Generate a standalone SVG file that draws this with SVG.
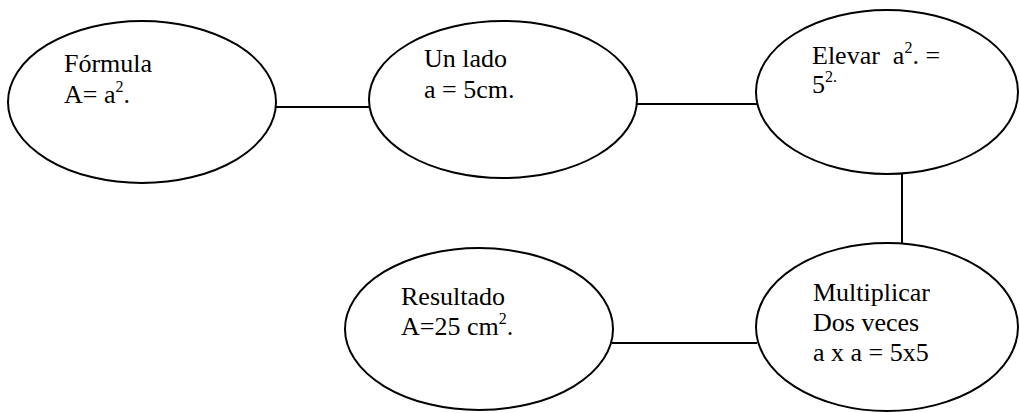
<svg xmlns="http://www.w3.org/2000/svg" width="1020" height="413" viewBox="0 0 1020 413">
<style>
.node ellipse{fill:#fff;stroke:#000;stroke-width:2}
.conn line{stroke:#000;stroke-width:2}
text{font-family:"Liberation Serif","Times New Roman",serif;font-size:26px;fill:#000}
.sup{font-size:16px}
</style>
<rect width="1020" height="413" fill="#fff"/>
<g id="connectors" class="conn">
<line x1="276" y1="107" x2="370" y2="107"/>
<line x1="636" y1="104" x2="757" y2="104"/>
<line x1="902" y1="173" x2="902" y2="244"/>
<line x1="612" y1="343" x2="757" y2="343"/>
</g>
<g id="formula" class="node">
<ellipse cx="142" cy="102" rx="134" ry="81"/>
<text x="64" y="72">Fórmula</text>
<text x="64" y="103">A= a<tspan class="sup" dy="-11">2</tspan><tspan dy="11">.</tspan></text>
</g>
<g id="unlado" class="node">
<ellipse cx="503" cy="99.5" rx="134" ry="78.5"/>
<text x="424" y="67">Un lado</text>
<text x="424" y="98">a = 5cm.</text>
</g>
<g id="elevar" class="node">
<ellipse cx="887" cy="92" rx="131" ry="82"/>
<text x="812" y="64" xml:space="preserve">Elevar  a<tspan class="sup" dy="-11">2</tspan><tspan dy="11">. =</tspan></text>
<text x="812" y="93">5<tspan class="sup" dy="-11">2.</tspan></text>
</g>
<g id="multiplicar" class="node">
<ellipse cx="887" cy="327" rx="131" ry="84"/>
<text x="813" y="301">Multiplicar</text>
<text x="813" y="331">Dos veces</text>
<text x="813" y="361">a x a = 5x5</text>
</g>
<g id="resultado" class="node">
<ellipse cx="479" cy="329" rx="134" ry="81"/>
<text x="401" y="305">Resultado</text>
<text x="401" y="335">A=25 cm<tspan class="sup" dy="-11">2</tspan><tspan dy="11">.</tspan></text>
</g>
</svg>
